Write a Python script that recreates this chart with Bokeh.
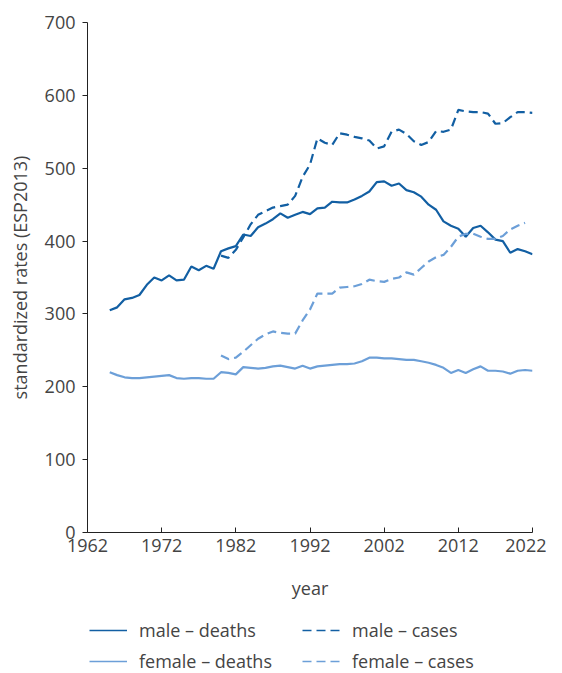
from bokeh.plotting import figure
from bokeh.models import Legend, LegendItem, Range1d, FixedTicker
from bokeh.layouts import column
from bokeh.embed import file_html
from bokeh.resources import INLINE

# ---- data ----
male_deaths_years = list(range(1965, 2023))
male_deaths = [305, 309, 320, 322, 326, 340, 350, 346, 353, 346, 347, 365, 360, 366, 362,
               386, 390, 393, 409, 407, 419, 424, 430, 438, 432, 436, 440, 437, 445, 446,
               454, 453, 453, 457, 462, 468, 481, 482, 476, 479, 470, 467, 461, 450, 443,
               427, 421, 417, 406, 418, 421, 412, 402, 400, 384, 389, 386, 382]

male_cases_years = list(range(1980, 2023))
male_cases = [380, 377, 388, 405, 423, 436, 441, 446, 448, 450, 462, 488, 505, 541, 535,
              532, 548, 546, 543, 541, 538, 527, 530, 550, 553, 547, 537, 532, 536, 551,
              550, 553, 580, 578, 577, 577, 575, 561, 562, 570, 577, 577, 576]

female_deaths_years = list(range(1965, 2023))
female_deaths = [220, 216, 213, 212, 212, 213, 214, 215, 216, 212, 211, 212, 212, 211, 211,
                 220, 219, 217, 227, 226, 225, 226, 228, 229, 227, 225, 229, 225, 228, 229,
                 230, 231, 231, 232, 235, 240, 240, 239, 239, 238, 237, 237, 235, 233, 230,
                 226, 219, 223, 219, 224, 228, 222, 222, 221, 218, 222, 223, 222]

female_cases_years = list(range(1980, 2022))
female_cases = [243, 238, 240, 248, 257, 266, 272, 276, 274, 273, 273, 291, 306, 328, 328,
                328, 336, 337, 338, 341, 347, 345, 344, 348, 350, 357, 354, 363, 372, 378,
                381, 392, 406, 410, 410, 406, 403, 403, 407, 416, 421, 425]

series_labels = ["male – deaths", "male – cases", "female – deaths", "female – cases"]

x_ticks = [1962, 1972, 1982, 1992, 2002, 2012, 2022]
y_ticks = [0, 100, 200, 300, 400, 500, 600, 700]

DARK = "#125fa3"
LIGHT = "#6c9fd8"
FONT = "Open Sans"
TXT = "#444444"
FS = "18px"
DASH = "9 5"
W = 546

p = figure(frame_width=445, frame_height=510, output_backend="svg", toolbar_location=None,
           x_range=Range1d(1962, 2022), y_range=Range1d(0, 700),
           min_border_left=87, min_border_top=22, min_border_right=W - 87 - 445,
           min_border_bottom=70)
p.outline_line_color = None
p.grid.grid_line_color = None
p.background_fill_color = "white"
p.border_fill_color = "white"

p.line(male_deaths_years, male_deaths, line_color=DARK, line_width=2.2)
p.line(male_cases_years, male_cases, line_color=DARK, line_width=2.2, line_dash=DASH)
p.line(female_deaths_years, female_deaths, line_color=LIGHT, line_width=2.2)
p.line(female_cases_years, female_cases, line_color=LIGHT, line_width=2.2, line_dash=DASH)

for ax in (p.xaxis[0], p.yaxis[0]):
    ax.axis_line_color = "#222222"
    ax.major_tick_line_color = "#222222"
    ax.minor_tick_line_color = None
    ax.major_label_text_font = FONT
    ax.major_label_text_font_size = FS
    ax.major_label_text_color = TXT
    ax.axis_label_text_font = FONT
    ax.axis_label_text_font_size = FS
    ax.axis_label_text_font_style = "normal"
    ax.axis_label_text_color = TXT

p.xaxis.ticker = FixedTicker(ticks=x_ticks)
p.yaxis.ticker = FixedTicker(ticks=y_ticks)
p.xaxis.major_tick_in = 5
p.xaxis.major_tick_out = 0
p.yaxis.major_tick_in = 0
p.yaxis.major_tick_out = 5
p.xaxis.axis_label = "year"
p.yaxis.axis_label = "standardized rates (ESP2013)"
p.xaxis.major_label_standoff = 6
p.xaxis.axis_label_standoff = 21
p.yaxis.major_label_standoff = 7
p.yaxis.axis_label_standoff = 10

# ---- legend strip (separate figure under the chart; its frame is aligned with the chart's) ----
lg = figure(frame_width=445, height=71, output_backend="svg", toolbar_location=None,
            x_axis_location=None, y_axis_location=None,
            x_range=Range1d(0, 1), y_range=Range1d(0, 1),
            min_border_left=87, min_border_right=W - 87 - 445, min_border_top=0, min_border_bottom=0)
lg.outline_line_color = None
lg.grid.grid_line_color = None
lg.border_fill_color = "white"

# proxy renderers for the legend keys (same data, out of this strip's view)
k1 = lg.line(male_deaths_years, male_deaths, line_color=DARK, line_width=1.6)
k2 = lg.line(male_cases_years, male_cases, line_color=DARK, line_width=1.6, line_dash=DASH)
k3 = lg.line(female_deaths_years, female_deaths, line_color=LIGHT, line_width=1.6)
k4 = lg.line(female_cases_years, female_cases, line_color=LIGHT, line_width=1.6, line_dash=DASH)


def make_legend(items, x):
    leg = Legend(items=items, location=(x, 0), orientation="vertical")
    leg.border_line_color = None
    leg.background_fill_alpha = 0
    leg.label_text_font = FONT
    leg.label_text_font_size = FS
    leg.label_text_color = TXT
    leg.glyph_width = 38
    leg.glyph_height = 20
    leg.label_height = 20
    leg.label_standoff = 12
    leg.spacing = 7
    leg.margin = 0
    leg.padding = 0
    return leg


lg.add_layout(make_legend([LegendItem(label=series_labels[0], renderers=[k1]),
                           LegendItem(label=series_labels[2], renderers=[k3])], 2), "center")
lg.add_layout(make_legend([LegendItem(label=series_labels[1], renderers=[k2]),
                           LegendItem(label=series_labels[3], renderers=[k4])], 215), "center")

layout = column(p, lg, spacing=0)
open("out.html", "w").write(file_html(layout, INLINE))
